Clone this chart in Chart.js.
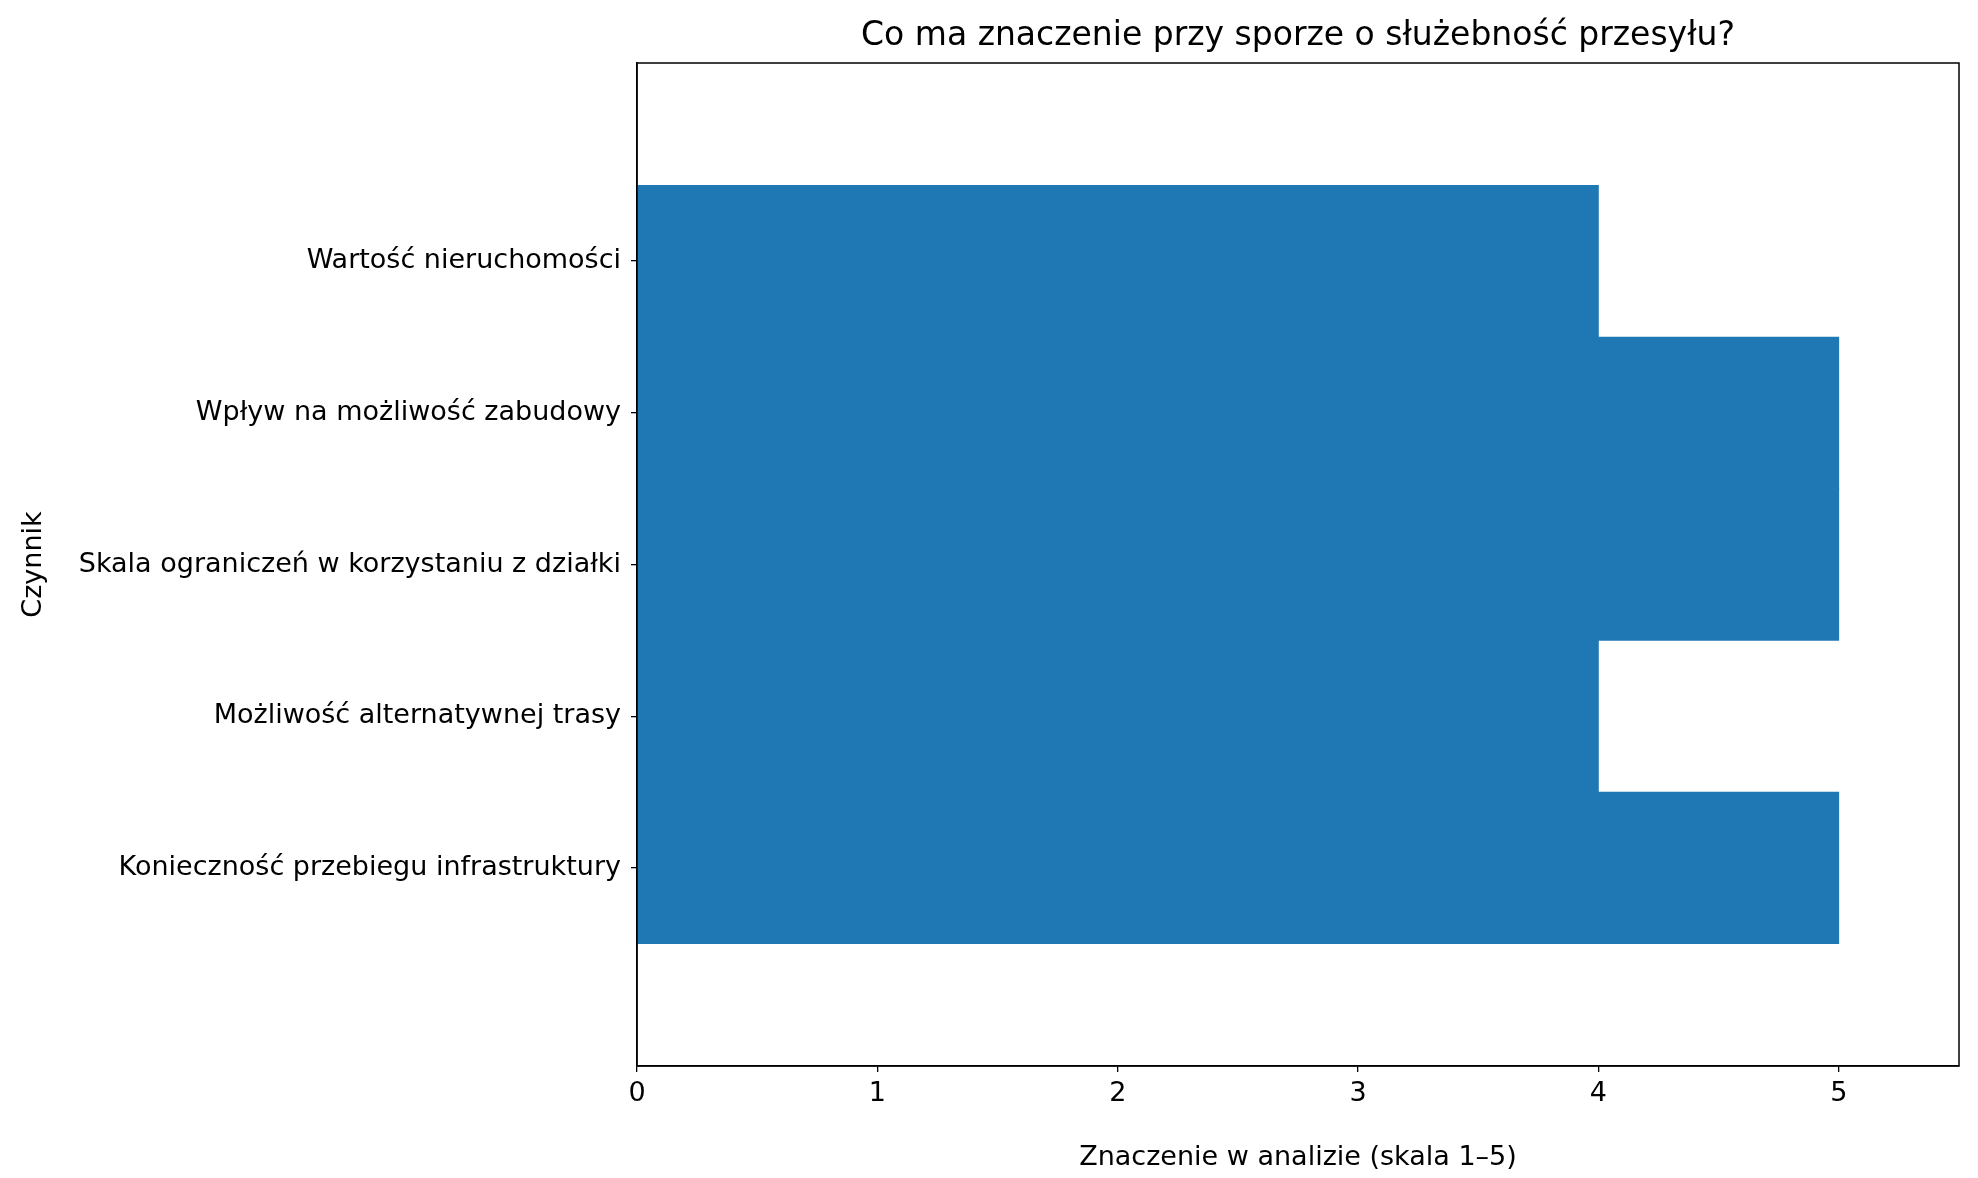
<!DOCTYPE html>
<html><head><meta charset="utf-8">
<script src="https://cdn.jsdelivr.net/npm/chart.js@4"></script>
<style>html,body{margin:0;padding:0;background:#fff}#w{width:1978px;height:1178px}</style>
</head><body><div id="w"><canvas id="c"></canvas></div>
<script>
const categories = ["Konieczność przebiegu infrastruktury","Możliwość alternatywnej trasy","Skala ograniczeń w korzystaniu z działki","Wpływ na możliwość zabudowy","Wartość nieruchomości"];
const values = [5,4,5,5,4];
const xTicks = [0,1,2,3,4,5];
const title = "Co ma znaczenie przy sporze o służebność przesyłu?";
const FONT = "'DejaVu Sans'";
const frame = {id:'frame', afterDraw(ch){const a=ch.chartArea,c=ch.ctx;c.save();c.strokeStyle='#000';c.lineWidth=1.5;c.strokeRect(a.left,a.top,a.right-a.left,a.bottom-a.top);
c.fillStyle='#000';c.font='33px '+FONT;c.textAlign='center';c.textBaseline='middle';c.fillText(title,(a.left+a.right)/2,36);c.restore();}};
new Chart(document.getElementById('c'),{type:'bar',
data:{datasets:[{data:categories.map((k,i)=>({x:values[i],y:i})),backgroundColor:'#1f77b4',categoryPercentage:1,barPercentage:1}]},
options:{indexAxis:'y',responsive:true,maintainAspectRatio:false,animation:false,
layout:{padding:{top:63,right:19,left:0,bottom:0}},
plugins:{legend:{display:false},tooltip:{enabled:false}},
scales:{
x:{type:'linear',min:0,max:5.5,afterBuildTicks:s=>{s.ticks=xTicks.map(v=>({value:v}))},
 afterFit:s=>{s.height=112},
 grid:{drawOnChartArea:false,offset:false,tickLength:6,color:'#000',lineWidth:1.3},border:{color:'#000',width:1.5},
 ticks:{color:'#000',font:{family:FONT,size:27},padding:6},
 title:{display:true,text:'Znaczenie w analizie (skala 1–5)',color:'#000',font:{family:FONT,size:27},padding:{top:2}}},
y:{type:'linear',min:-0.645,max:4.645,afterBuildTicks:s=>{s.ticks=categories.map((k,i)=>({value:i}))},
 afterFit:s=>{s.width=637},
 grid:{drawOnChartArea:false,offset:false,tickLength:6,color:'#000',lineWidth:1.3},border:{color:'#000',width:1.5},
 ticks:{color:'#000',font:{family:FONT,size:27},padding:10,callback:v=>categories[v]},
 title:{display:true,text:'Czynnik',color:'#000',font:{family:FONT,size:27},padding:{bottom:0,top:18}}}
}},plugins:[frame]});
</script></body></html>
